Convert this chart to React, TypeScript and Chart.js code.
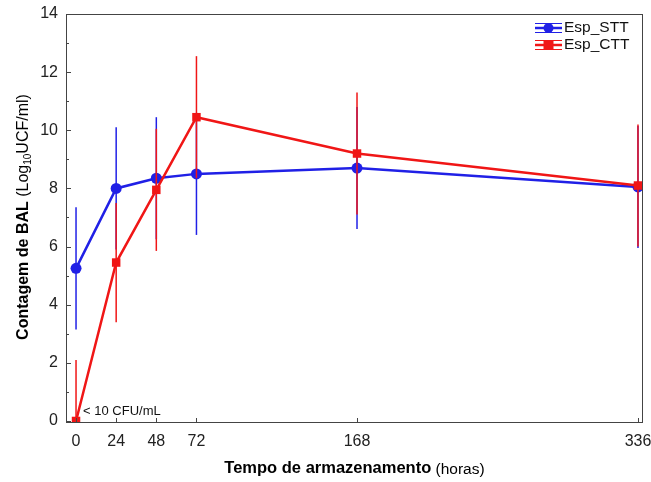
import React, { useEffect, useRef } from 'react';
import { Chart, registerables } from 'chart.js';
Chart.register(...registerables);

const hours = [0, 24, 48, 72, 168, 336];
const sttMeans = [5.25, 8.0, 8.35, 8.5, 8.7, 8.05];
const sttErrors = [2.1, 2.1, 2.1, 2.1, 2.1, 2.1];
const cttMeans = [0, 5.45, 7.95, 10.45, 9.2, 8.1];
const cttErrors = [2.1, 2.05, 2.1, 2.1, 2.1, 2.1];
const yTicks = [0, 2, 4, 6, 8, 10, 12, 14];
const yMinorTicks = [1, 3, 5, 7, 9, 11, 13];
const seriesNames = ['Esp_STT', 'Esp_CTT'];
const noteText = '< 10 CFU/mL';

const BLUE = 'rgb(32,32,230)';
const RED = 'rgb(240,22,22)';
const FONT = 'Liberation Sans, Arial, sans-serif';

const errorBarPlugin = {
  id: 'errorBars',
  beforeDatasetDraw(chart: any, args: any) {
    const ds = chart.data.datasets[args.index];
    const errs: number[] = ds.errorBars;
    if (!errs) return;
    const ctx = chart.ctx;
    const ys = chart.scales.y;
    const xs = chart.scales.x;
    const ca = chart.chartArea;
    ctx.save();
    ctx.beginPath();
    ctx.rect(ca.left, ca.top, ca.right - ca.left, ca.bottom - ca.top);
    ctx.clip();
    ctx.strokeStyle = ds.borderColor;
    ctx.lineWidth = 1.5;
    ds.data.forEach((p: any, i: number) => {
      const x = xs.getPixelForValue(p.x);
      const y1 = ys.getPixelForValue(p.y - errs[i]);
      const y2 = ys.getPixelForValue(p.y + errs[i]);
      ctx.beginPath();
      ctx.moveTo(x, y1);
      ctx.lineTo(x, y2);
      ctx.stroke();
    });
    ctx.restore();
  },
};

const decorPlugin = {
  id: 'decor',
  afterDraw(chart: any) {
    const ctx = chart.ctx;
    const ca = chart.chartArea;
    const ys = chart.scales.y;
    const xs = chart.scales.x;
    ctx.save();
    // frame
    ctx.strokeStyle = '#444';
    ctx.lineWidth = 1;
    ctx.strokeRect(Math.round(ca.left) + 0.5, Math.round(ca.top) + 0.5, Math.round(ca.right - ca.left) - 1, Math.round(ca.bottom - ca.top) - 1);
    // inward ticks
    ctx.strokeStyle = '#444';
    ctx.beginPath();
    yTicks.forEach((v) => {
      const y = Math.round(ys.getPixelForValue(v)) + 0.5;
      ctx.moveTo(ca.left, y);
      ctx.lineTo(ca.left + 5, y);
    });
    yMinorTicks.forEach((v) => {
      const y = Math.round(ys.getPixelForValue(v)) + 0.5;
      ctx.moveTo(ca.left, y);
      ctx.lineTo(ca.left + 3, y);
    });
    hours.forEach((v) => {
      const x = Math.round(xs.getPixelForValue(v)) + 0.5;
      ctx.moveTo(x, ca.bottom);
      ctx.lineTo(x, ca.bottom - 5);
    });
    ctx.stroke();

    // annotation
    ctx.fillStyle = '#111';
    ctx.font = `13px ${FONT}`;
    ctx.textAlign = 'left';
    ctx.textBaseline = 'middle';
    ctx.fillText(noteText, xs.getPixelForValue(0) + 7, ys.getPixelForValue(0) - 10);

    // x title
    ctx.fillStyle = '#000';
    const xbold = `bold 16.5px ${FONT}`;
    const xnorm = `15.5px ${FONT}`;
    const xt1 = 'Tempo de armazenamento';
    const xt2 = ' (horas)';
    ctx.font = xbold;
    const w1 = ctx.measureText(xt1).width;
    ctx.font = xnorm;
    const w2 = ctx.measureText(xt2).width;
    const cx = (ca.left + ca.right) / 2;
    const sx = cx - (w1 + w2) / 2;
    ctx.textBaseline = 'alphabetic';
    ctx.font = xbold;
    ctx.fillText(xt1, sx, 473);
    ctx.font = xnorm;
    ctx.fillText(xt2, sx + w1, 474);

    // y title (rotated)
    ctx.save();
    ctx.translate(28, 217);
    ctx.rotate(-Math.PI / 2);
    const p1 = 'Contagem de BAL';
    const p2 = ' (Log';
    const p3 = '10';
    const p4 = 'UCF/ml)';
    const bold = `bold 16px ${FONT}`;
    const norm = `16px ${FONT}`;
    const sub = `10px ${FONT}`;
    ctx.font = bold;
    const a = ctx.measureText(p1).width;
    ctx.font = norm;
    const b = ctx.measureText(p2).width;
    const d = ctx.measureText(p4).width;
    ctx.font = sub;
    const c = ctx.measureText(p3).width;
    let tx = -(a + b + c + d) / 2;
    ctx.font = bold;
    ctx.fillText(p1, tx, 0);
    tx += a;
    ctx.font = norm;
    ctx.fillText(p2, tx, 0);
    tx += b;
    ctx.font = sub;
    ctx.fillText(p3, tx, 3);
    tx += c;
    ctx.font = norm;
    ctx.fillText(p4, tx, 0);
    ctx.restore();

    // legend
    const legendColors = [BLUE, RED];
    const rows = [28, 45];
    legendColors.forEach((col, i) => {
      const y = rows[i];
      const x0 = 535, x1 = 562;
      ctx.strokeStyle = col;
      ctx.fillStyle = col;
      ctx.lineWidth = 1;
      ctx.beginPath();
      ctx.moveTo(x0, y - 4.5);
      ctx.lineTo(x1, y - 4.5);
      ctx.moveTo(x0, y + 4.5);
      ctx.lineTo(x1, y + 4.5);
      ctx.stroke();
      ctx.lineWidth = 2.5;
      ctx.beginPath();
      ctx.moveTo(x0, y);
      ctx.lineTo(x1, y);
      ctx.stroke();
      const mx = (x0 + x1) / 2;
      if (i === 0) {
        ctx.beginPath();
        ctx.arc(mx, y, 5, 0, Math.PI * 2);
        ctx.fill();
      } else {
        ctx.fillRect(mx - 5, y - 5, 10, 10);
      }
      ctx.fillStyle = '#111';
      ctx.font = `15.5px ${FONT}`;
      ctx.textAlign = 'left';
      ctx.textBaseline = 'middle';
      ctx.fillText(seriesNames[i], 564, y);
    });
    ctx.restore();
  },
};

export default function App() {
  const ref = useRef<HTMLCanvasElement>(null);
  useEffect(() => {
    if (!ref.current) return;
    const chart = new Chart(ref.current, {
      type: 'line',
      data: {
        datasets: [
          {
            label: seriesNames[0],
            data: hours.map((h, i) => ({ x: h, y: sttMeans[i] })),
            borderColor: BLUE,
            backgroundColor: BLUE,
            borderWidth: 2.5,
            pointStyle: 'circle',
            pointRadius: 5.5,
            pointBorderWidth: 0,
            order: 1,
            errorBars: sttErrors,
          } as any,
          {
            label: seriesNames[1],
            data: hours.map((h, i) => ({ x: h, y: cttMeans[i] })),
            borderColor: RED,
            backgroundColor: RED,
            borderWidth: 2.5,
            pointStyle: 'rect',
            pointRadius: 6,
            pointBorderWidth: 0,
            order: 0,
            errorBars: cttErrors,
          } as any,
        ],
      },
      options: {
        responsive: false,
        animation: false,
        layout: { padding: { top: 14, right: 8, left: 0, bottom: 0 } },
        plugins: { legend: { display: false }, tooltip: { enabled: false } },
        scales: {
          x: {
            type: 'linear',
            min: -6,
            max: 339,
            afterBuildTicks: (s: any) => {
              s.ticks = hours.map((v) => ({ value: v }));
            },
            afterFit: (s: any) => {
              s.height = 59;
              s.paddingLeft = 0;
              s.paddingRight = 0;
            },
            grid: { display: false, drawTicks: false },
            border: { display: false },
            ticks: {
              font: { family: FONT, size: 16 },
              color: '#222',
              padding: 9,
              maxRotation: 0,
              autoSkip: false,
            },
          },
          y: {
            type: 'linear',
            min: -0.07,
            max: 14,
            afterBuildTicks: (s: any) => {
              s.ticks = yTicks.map((v) => ({ value: v }));
            },
            afterFit: (s: any) => {
              s.width = 66;
              s.paddingTop = 0;
              s.paddingBottom = 0;
            },
            grid: { display: false, drawTicks: false },
            border: { display: false },
            ticks: {
              font: { family: FONT, size: 16 },
              color: '#222',
              padding: 8,
              autoSkip: false,
            },
          },
        },
      },
      plugins: [errorBarPlugin, decorPlugin],
    } as any);
    return () => chart.destroy();
  }, []);
  return (
    <div style={{ position: 'absolute', left: 0, top: 0, width: 651, height: 482, background: '#fff' }}>
      <canvas ref={ref} width={651} height={482} />
    </div>
  );
}
